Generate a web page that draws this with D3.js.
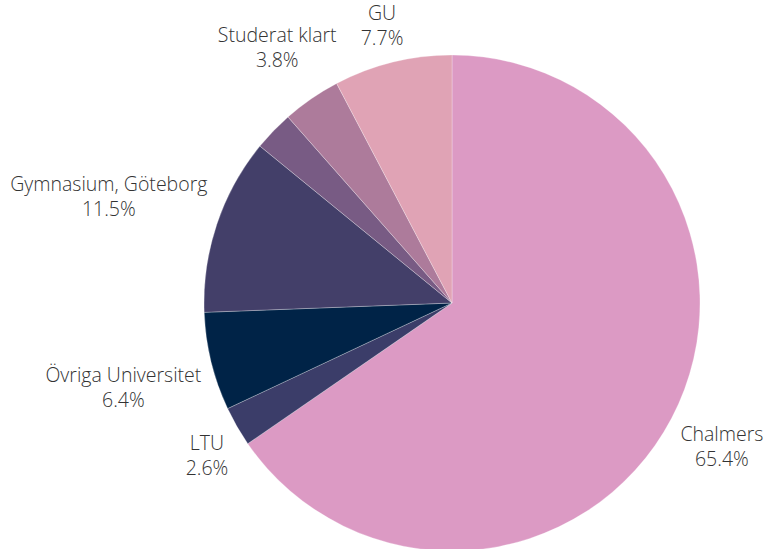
<!DOCTYPE html>
<html>
<head>
<meta charset="utf-8">
<script src="https://cdn.jsdelivr.net/npm/d3@7"></script>
<style>
  body { margin: 0; background: #fff; }
  svg { display: block; }
</style>
</head>
<body>
<div id="chart"></div>
<script>
/* DATA */
const categories = ["Chalmers", "LTU", "Övriga Universitet", "Gymnasium, Göteborg", "", "Studerat klart", "GU"];
const shares = [65.4, 2.6, 6.4, 11.5, 2.6, 3.8, 7.7];
const colors = ["#dc9ac4", "#3b3d69", "#002347", "#433f69", "#785b84", "#ad7b9b", "#e0a3b5"];

/* LAYOUT */
const width = 764,
  height = 549,
  cx = 452,
  cy = 303,
  radius = 248,
  labelRadius = 258,
  fontSize = 19.5,
  lineGap = 25;

// the two crowded labels at the top get pushed a little round the circle
const labelNudge = { "Studerat klart": 8, "GU": 3 };

const formatPct = d => d3.format(".1f")(d) + "%";

const data = categories.map((name, i) => ({ name, value: shares[i], color: colors[i] }));

const svg = d3.select("#chart")
  .append("svg")
  .attr("width", width)
  .attr("height", height);

const pie = d3.pie()
  .sort(null)
  .value(d => d.value);

const arc = d3.arc()
  .innerRadius(0)
  .outerRadius(radius);

const arcs = pie(data);

const g = svg.append("g")
  .attr("transform", `translate(${cx}, ${cy})`);

g.selectAll("path.slice")
  .data(arcs)
  .join("path")
  .attr("class", "slice")
  .attr("d", arc)
  .attr("fill", d => d.data.color)
  .attr("stroke", "#ffffff")
  .attr("stroke-opacity", 0.45)
  .attr("stroke-width", 0.6);

// + LABELS
const labels = svg.selectAll("text.label")
  .data(arcs.filter(d => d.data.name !== ""))
  .join("text")
  .attr("class", "label")
  .attr("text-anchor", "middle")
  .attr("font-family", "'Open Sans', sans-serif")
  .attr("font-weight", 300)
  .attr("font-size", fontSize)
  .attr("fill", "#333333");

labels.each(function (d) {
  const text = d3.select(this);
  const t1 = text.append("tspan").text(d.data.name);
  const t2 = text.append("tspan").text(formatPct(d.data.value));
  const w = Math.max(t1.node().getComputedTextLength(), t2.node().getComputedTextLength());
  const top = 18, bottom = 5;
  const h = top + lineGap + bottom;

  const nudge = (labelNudge[d.data.name] || 0) * Math.PI / 180;
  const a = (d.startAngle + d.endAngle) / 2 + nudge;
  const px = cx + labelRadius * Math.sin(a);
  const py = cy - labelRadius * Math.cos(a);

  // box corner closest to the pie sits on the label circle
  const boxX = Math.sin(a) < 0 ? px - w : px;
  const boxY = -Math.cos(a) < 0 ? py - h : py;
  const x = boxX + w / 2;

  t1.attr("x", x).attr("y", boxY + top);
  t2.attr("x", x).attr("y", boxY + top + lineGap);
});
</script>
</body>
</html>
